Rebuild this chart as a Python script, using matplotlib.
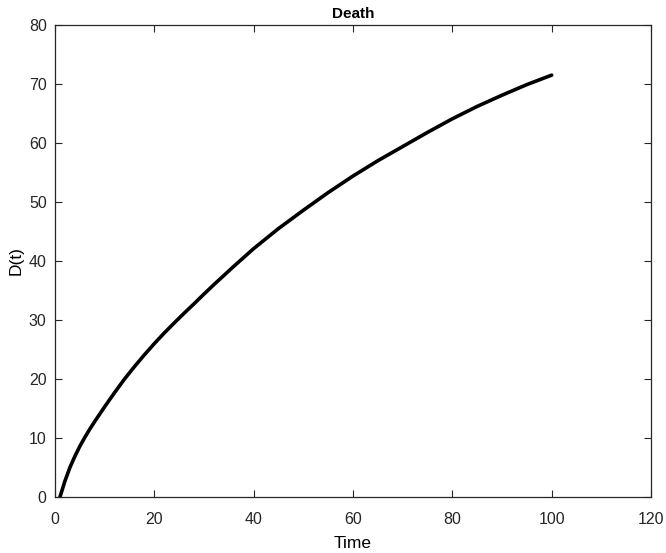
import matplotlib
matplotlib.use('Agg')
import matplotlib.pyplot as plt

# values
time = [1, 2, 3, 4, 5, 6, 7, 8, 9, 10, 11, 12, 13, 14, 16, 18, 20, 22, 24,
        26, 28, 30, 32, 34, 36, 38, 40, 45, 50, 55, 60, 65, 70, 75, 80, 85,
        90, 95, 100]
death = [0.0, 2.7, 5.0, 6.9, 8.6, 10.1, 11.5, 12.8, 14.05, 15.3, 16.5, 17.7,
         18.85, 20.0, 22.1, 24.1, 26.0, 27.8, 29.5, 31.15, 32.75, 34.4, 36.0,
         37.55, 39.1, 40.6, 42.1, 45.5, 48.6, 51.6, 54.4, 57.0, 59.4, 61.8,
         64.1, 66.2, 68.1, 69.9, 71.5]

xticks = [0, 20, 40, 60, 80, 100, 120]
yticks = [0, 10, 20, 30, 40, 50, 60, 70, 80]

plt.rcParams['font.family'] = ['Liberation Sans', 'DejaVu Sans']

fig = plt.figure(figsize=(6.66, 5.53), dpi=100)
ax = fig.add_axes([0.0826, 0.1013, 0.8949, 0.8535])

ax.plot(time, death, c='black', lw=2.6, solid_capstyle='round',
        solid_joinstyle='round')

ax.set_xlim(0, 120)
ax.set_ylim(0, 80)
ax.set_xticks(xticks)
ax.set_yticks(yticks)
ax.tick_params(direction='in', top=True, right=True, length=5, width=0.8,
               labelsize=11.5, colors='#262626')
ax.tick_params(axis='x', pad=11)
ax.tick_params(axis='y', pad=6)
for s in ax.spines.values():
    s.set_linewidth(0.9)
    s.set_color('#262626')

ax.set_xlabel('Time', fontsize=12.5, labelpad=6)
ax.set_ylabel('D(t)', fontsize=12.5, labelpad=4)
ax.set_title('Death', fontsize=11, fontweight='bold', pad=5)

fig.savefig('out.png', dpi=100)
